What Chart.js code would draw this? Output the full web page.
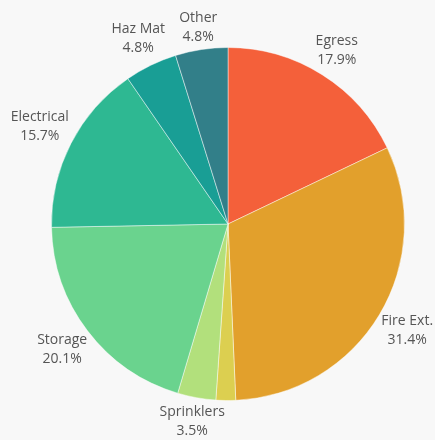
<!DOCTYPE html>
<html>
<head>
<meta charset="utf-8">
<script src="https://cdn.jsdelivr.net/npm/chart.js@4"></script>
<style>
  html, body { margin: 0; padding: 0; background: #f8f8f8; }
  #wrap { width: 435px; height: 440px; }
</style>
</head>
<body>
<div id="wrap"><canvas id="pie" width="435" height="440"></canvas></div>
<script>
const categories = ['Egress', 'Fire Ext.', 'Misc.', 'Sprinklers', 'Storage', 'Electrical', 'Haz Mat', 'Other'];
const percents = [17.9, 31.4, 1.8, 3.5, 20.1, 15.7, 4.8, 4.8];
const colors = ['#f4603a', '#e2a02c', '#dccf50', '#b2e07c', '#6ad38e', '#2eb892', '#199e95', '#327f89'];

// labels drawn outside each slice, two lines: name + percent
const outsideLabels = {
  id: 'outsideLabels',
  afterDatasetsDraw(chart) {
    const ctx = chart.ctx;
    const meta = chart.getDatasetMeta(0);
    ctx.save();
    ctx.font = '14px "Open Sans"';
    ctx.fillStyle = '#555';
    ctx.textAlign = 'center';
    ctx.textBaseline = 'middle';
    meta.data.forEach((arc, i) => {
      if (percents[i] < 2) return;
      const mid = (arc.startAngle + arc.endAngle) / 2;
      const dx = Math.cos(mid), dy = Math.sin(mid);
      const line2 = percents[i].toFixed(1) + '%';
      const w = Math.max(ctx.measureText(categories[i]).width, ctx.measureText(line2).width);
      const h = 36;
      const off = Math.abs(dx) * w / 2 + Math.abs(dy) * h / 2 + 1;
      const x = arc.x + dx * (arc.outerRadius + off);
      const y = arc.y + dy * (arc.outerRadius + off);
      ctx.fillText(categories[i], x, y - 10);
      ctx.fillText(line2, x, y + 9);
    });
    ctx.restore();
  }
};

new Chart(document.getElementById('pie'), {
  type: 'pie',
  data: {
    labels: categories,
    datasets: [{
      data: percents,
      backgroundColor: colors,
      borderColor: 'rgba(255,255,255,0.45)',
      borderWidth: 1
    }]
  },
  options: {
    responsive: false,
    animation: false,
    layout: { padding: { top: 47, bottom: 39, left: 51, right: 30 } },
    plugins: {
      legend: { display: false },
      tooltip: { enabled: false }
    }
  },
  plugins: [outsideLabels]
});
</script>
</body>
</html>
